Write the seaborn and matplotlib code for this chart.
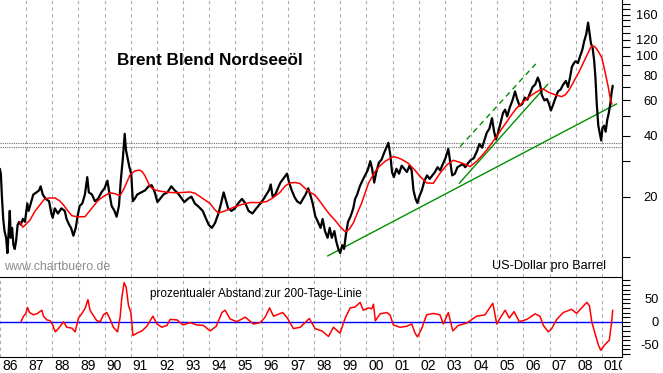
import matplotlib
matplotlib.use("Agg")
import matplotlib.pyplot as plt
import seaborn as sns
import pandas as pd
from matplotlib.ticker import FixedLocator, FixedFormatter, NullLocator
from matplotlib.transforms import Bbox, TransformedBbox, ScaledTranslation

sns.set_style("white")
plt.rcParams["font.family"] = ["Liberation Sans", "DejaVu Sans"]

# ---------------- data ----------------
price_year = [
    1986.00, 1986.04, 1986.08, 1986.13, 1986.18, 1986.24, 1986.29, 1986.34, 1986.38, 1986.42,
    1986.47, 1986.52, 1986.57, 1986.62, 1986.68, 1986.74, 1986.80, 1986.88, 1986.96, 1987.05,
    1987.10, 1987.18, 1987.28, 1987.40, 1987.50, 1987.56, 1987.64, 1987.75, 1987.88, 1987.97,
    1988.02, 1988.10, 1988.22, 1988.35, 1988.48, 1988.55, 1988.65, 1988.72, 1988.81, 1988.90,
    1988.97, 1989.05, 1989.15, 1989.25, 1989.34, 1989.40, 1989.52, 1989.63, 1989.75, 1989.88,
    1990.00, 1990.11, 1990.18, 1990.27, 1990.38, 1990.46, 1990.55, 1990.62, 1990.70, 1990.77,
    1990.82, 1990.88, 1990.95, 1991.02, 1991.08, 1991.15, 1991.25, 1991.40, 1991.55, 1991.68,
    1991.80, 1991.92, 1992.02, 1992.12, 1992.25, 1992.40, 1992.55, 1992.68, 1992.80, 1992.92,
    1993.05, 1993.18, 1993.32, 1993.45, 1993.60, 1993.75, 1993.88, 1993.98, 1994.10, 1994.22,
    1994.35, 1994.45, 1994.55, 1994.62, 1994.72, 1994.85, 1994.98, 1995.10, 1995.25, 1995.38,
    1995.50, 1995.65, 1995.80, 1995.95, 1996.08, 1996.18, 1996.28, 1996.35, 1996.42, 1996.52,
    1996.62, 1996.72, 1996.82, 1996.92, 1996.97, 1997.05, 1997.15, 1997.25, 1997.35, 1997.48,
    1997.58, 1997.68, 1997.78, 1997.88, 1997.95, 1998.05, 1998.15, 1998.25, 1998.33, 1998.42,
    1998.52, 1998.60, 1998.68, 1998.78, 1998.85, 1998.93, 1999.00, 1999.08, 1999.15, 1999.22,
    1999.30, 1999.40, 1999.50, 1999.57, 1999.65, 1999.75, 1999.85, 1999.95, 2000.05, 2000.15,
    2000.22, 2000.30, 2000.38, 2000.48, 2000.58, 2000.68, 2000.76, 2000.84, 2000.92, 2000.98,
    2001.05, 2001.15, 2001.25, 2001.35, 2001.45, 2001.55, 2001.65, 2001.73, 2001.80, 2001.88,
    2001.95, 2002.02, 2002.12, 2002.22, 2002.32, 2002.42, 2002.52, 2002.62, 2002.72, 2002.82,
    2002.92, 2003.02, 2003.13, 2003.20, 2003.28, 2003.38, 2003.48, 2003.58, 2003.68, 2003.78,
    2003.90, 2004.00, 2004.10, 2004.22, 2004.32, 2004.42, 2004.52, 2004.60, 2004.70, 2004.80,
    2004.88, 2004.95, 2005.02, 2005.12, 2005.22, 2005.30, 2005.38, 2005.48, 2005.58, 2005.68,
    2005.76, 2005.85, 2005.95, 2006.05, 2006.15, 2006.25, 2006.35, 2006.45, 2006.55, 2006.63,
    2006.70, 2006.80, 2006.90, 2006.97, 2007.05, 2007.12, 2007.22, 2007.32, 2007.42, 2007.52,
    2007.62, 2007.70, 2007.78, 2007.85, 2007.93, 2008.00, 2008.08, 2008.17, 2008.25, 2008.32,
    2008.40, 2008.47, 2008.53, 2008.58, 2008.64, 2008.70, 2008.75, 2008.80, 2008.86, 2008.92,
    2008.97, 2009.02, 2009.08, 2009.14, 2009.20, 2009.26, 2009.32, 2009.37, 2009.41,
]
price_usd = [
    27.5, 26.0, 20.0, 15.5, 13.5, 12.5, 10.5, 13.5, 17.0, 12.5,
    14.0, 11.5, 11.0, 12.0, 14.5, 15.0, 14.5, 15.5, 15.0, 18.5,
    17.0, 18.5, 20.5, 21.0, 21.5, 22.5, 20.5, 19.5, 19.0, 16.5,
    15.7, 17.5, 16.5, 17.5, 17.0, 15.5, 14.5, 14.0, 12.8, 14.0,
    16.0, 18.0, 18.5, 20.5, 25.0, 21.0, 20.5, 19.0, 19.5, 21.0,
    22.0, 24.0, 21.0, 18.0, 17.0, 15.9, 18.0, 24.0, 31.0, 41.0,
    34.0, 31.0, 28.0, 26.0, 19.0, 19.5, 20.5, 21.0, 21.5, 22.5,
    22.8, 21.0, 18.8, 19.5, 20.5, 21.0, 22.5, 21.5, 20.8, 19.8,
    18.8, 19.5, 20.0, 18.5, 17.8, 17.0, 15.5, 14.5, 14.0, 14.8,
    16.5, 18.5, 21.0, 19.5, 17.5, 17.0, 17.5, 18.5, 19.5, 18.5,
    17.0, 16.5, 17.5, 18.5, 19.5, 20.5, 21.5, 23.0, 20.0, 20.5,
    22.0, 23.5, 24.5, 25.5, 26.0, 23.5, 21.5, 20.0, 19.0, 18.5,
    19.5, 20.5, 22.0, 20.0, 18.5, 16.0, 15.0, 14.0, 15.5, 13.5,
    12.5, 14.0, 12.5, 13.5, 12.0, 11.0, 10.5, 11.5, 11.0, 13.0,
    15.0, 16.0, 17.5, 19.5, 20.5, 22.5, 24.0, 25.5, 27.0, 30.0,
    27.5, 23.5, 26.5, 29.5, 30.5, 33.0, 35.0, 37.0, 32.0, 26.5,
    25.0, 27.5, 26.0, 28.5, 27.5, 26.5, 28.5, 27.0, 21.5, 19.5,
    18.6, 20.0, 21.5, 24.0, 25.5, 24.5, 25.5, 26.5, 28.0, 27.0,
    29.0, 31.0, 34.5, 30.0, 25.5, 26.0, 28.0, 28.5, 29.0, 28.0,
    29.5, 30.5, 31.0, 33.5, 36.5, 35.0, 38.5, 41.5, 43.5, 49.0,
    42.0, 38.5, 41.0, 46.0, 52.0, 54.0, 50.0, 55.5, 60.0, 66.5,
    61.0, 56.5, 57.5, 62.0, 60.5, 65.0, 70.0, 72.0, 78.0, 73.0,
    64.0, 60.0, 61.0, 58.0, 53.5, 56.5, 61.5, 66.5, 68.0, 72.0,
    75.0, 70.0, 78.0, 88.0, 92.0, 94.0, 92.0, 100.0, 107.0, 118.0,
    128.0, 146.0, 128.0, 115.0, 110.0, 95.0, 78.0, 58.0, 45.0, 41.0,
    38.0, 44.0, 45.0, 42.0, 48.0, 52.0, 58.0, 66.0, 71.0,
]

ma_year = [
    1986.77, 1986.88, 1987.00, 1987.15, 1987.35, 1987.53, 1987.70, 1987.85, 1988.11, 1988.30,
    1988.43, 1988.60, 1988.75, 1988.94, 1989.25, 1989.40, 1989.57, 1989.70, 1989.83, 1990.00,
    1990.21, 1990.40, 1990.59, 1990.75, 1990.97, 1991.15, 1991.35, 1991.45, 1991.55, 1991.74,
    1991.92, 1992.12, 1992.45, 1992.76, 1993.00, 1993.26, 1993.45, 1993.65, 1993.85, 1994.03,
    1994.20, 1994.35, 1994.60, 1994.92, 1995.25, 1995.56, 1995.90, 1996.19, 1996.45, 1996.70,
    1996.90, 1997.08, 1997.30, 1997.47, 1997.66, 1997.85, 1998.04, 1998.22, 1998.42, 1998.60,
    1998.80, 1999.00, 1999.19, 1999.35, 1999.50, 1999.65, 1999.82, 2000.08, 2000.33, 2000.50,
    2000.71, 2001.03, 2001.20, 2001.35, 2001.60, 2001.86, 2002.05, 2002.30, 2002.56, 2002.81,
    2003.07, 2003.32, 2003.50, 2003.70, 2003.96, 2004.21, 2004.40, 2004.60, 2004.80, 2004.98,
    2005.15, 2005.36, 2005.55, 2005.74, 2005.90, 2006.06, 2006.25, 2006.44, 2006.60, 2006.75,
    2006.95, 2007.21, 2007.46, 2007.60, 2007.72, 2007.85, 2007.97, 2008.10, 2008.22, 2008.35,
    2008.48, 2008.57, 2008.63, 2008.72, 2008.80, 2008.90, 2008.99, 2009.06, 2009.12, 2009.18,
    2009.24, 2009.30, 2009.34, 2009.38,
]
ma_usd = [
    15.0, 14.1, 14.6, 15.3, 17.0, 18.2, 19.4, 19.7, 19.7, 19.0,
    18.2, 17.0, 16.1, 15.9, 15.9, 16.8, 17.9, 18.8, 19.5, 20.2,
    20.9, 20.7, 20.2, 22.0, 25.6, 26.8, 27.1, 26.5, 25.3, 22.4,
    21.6, 21.3, 21.0, 20.9, 21.0, 21.1, 20.8, 20.0, 19.2, 18.5,
    17.3, 16.6, 17.0, 17.7, 18.3, 18.7, 18.7, 18.9, 19.8, 21.0,
    22.6, 23.4, 23.5, 23.2, 22.0, 21.0, 20.4, 19.0, 17.5, 16.3,
    15.3, 14.2, 13.4, 13.8, 14.8, 16.5, 18.6, 23.3, 26.6, 28.3,
    29.9, 31.6, 31.2, 30.6, 29.3, 27.0, 25.2, 23.4, 23.3, 26.1,
    28.7, 30.3, 29.8, 29.2, 28.2, 29.9, 31.8, 34.1, 37.0, 39.9,
    43.0, 47.0, 51.0, 55.0, 57.5, 60.0, 63.0, 65.4, 67.3, 68.5,
    66.0, 64.0, 62.7, 64.0, 67.0, 71.5, 76.5, 82.0, 88.3, 96.0,
    104.0, 110.0, 112.0, 111.0, 108.0, 103.0, 98.0, 90.0, 83.0, 76.0,
    70.0, 63.0, 60.0, 57.5,
]

dev_year = [
    1986.80, 1986.90, 1986.99, 1987.05, 1987.13, 1987.28, 1987.43, 1987.60, 1987.66, 1987.79,
    1987.92, 1988.02, 1988.11, 1988.23, 1988.43, 1988.55, 1988.75, 1988.87, 1989.00, 1989.13,
    1989.25, 1989.36, 1989.44, 1989.55, 1989.70, 1989.83, 1989.95, 1990.08, 1990.21, 1990.33,
    1990.49, 1990.59, 1990.65, 1990.74, 1990.82, 1990.91, 1991.00, 1991.08, 1991.23, 1991.42,
    1991.61, 1991.84, 1992.00, 1992.18, 1992.38, 1992.50, 1992.76, 1992.99, 1993.26, 1993.52,
    1993.77, 1994.03, 1994.26, 1994.48, 1994.60, 1994.79, 1995.05, 1995.37, 1995.68, 1995.94,
    1996.13, 1996.30, 1996.45, 1996.80, 1996.98, 1997.21, 1997.47, 1997.82, 1998.04, 1998.30,
    1998.55, 1998.74, 1998.99, 1999.19, 1999.38, 1999.57, 1999.76, 1999.88, 2000.08, 2000.20,
    2000.27, 2000.34, 2000.52, 2000.78, 2000.90, 2001.03, 2001.28, 2001.54, 2001.73, 2001.86,
    2001.95, 2002.11, 2002.30, 2002.56, 2002.81, 2002.94, 2003.13, 2003.30, 2003.51, 2003.83,
    2004.21, 2004.53, 2004.83, 2004.98, 2005.13, 2005.30, 2005.46, 2005.64, 2005.84, 2006.13,
    2006.44, 2006.63, 2006.76, 2006.95, 2007.08, 2007.27, 2007.52, 2007.84, 2008.03, 2008.22,
    2008.42, 2008.52, 2008.61, 2008.73, 2008.86, 2008.95, 2009.11, 2009.28, 2009.37, 2009.41,
]
dev_pct = [
    0, 12, 18, 31, 20, 15, 18, 25, 12, 4,
    2, -8, -22, -15, 0, -12, -14, -22, 8, 18,
    29, 48, 25, 15, 2, 0, 15, 20, 5, -12,
    -22, 10, 50, 85, 75, 35, 20, -30, -25, -20,
    -10, 12, -5, -12, -8, 5, 4, -7, -2, -7,
    -8, -20, -10, 20, 25, 6, 0, 10, -5, -2,
    10, 30, 12, 20, 8, -15, -12, 7, -15, -20,
    -32, -12, -25, 8, 30, 32, 42, 25, 30, 28,
    38, 2, 17, 20, 15, -7, -12, -10, -5, -25,
    -33, -15, 15, 18, 15, -5, 20, -20, -8, -3,
    12, 15, 40, -5, 10, 25, 8, 22, 0, 5,
    17, 12, -8, -22, -15, 5, 20, 27, 18, 30,
    42, 35, 0, -25, -50, -62, -50, -40, 0, 25,
]

# trend lines drawn in the chart (start / end)
trend_long_year = [1998.52, 2009.56]
trend_long_usd = [10.16, 57.7]
trend_steep_year = [2003.55, 2006.93]
trend_steep_usd = [23.3, 72.3]
trend_dash_year = [2003.58, 2006.47]
trend_dash_usd = [35.4, 91.1]
resistance_usd = [36.8, 35.3]

year_ticks = list(range(1986, 2010))
year_labels = ["86", "87", "88", "89", "90", "91", "92", "93", "94", "95", "96", "97",
               "98", "99", "00", "01", "02", "03", "04", "05", "06", "07", "08", "010"]
price_ticks = [10, 20, 30, 40, 50, 60, 70, 80, 90, 100, 110, 120, 130, 140, 150, 160, 170, 180]
price_labels = {20: "20", 40: "40", 60: "60", 80: "80", 100: "100", 120: "120", 160: "160"}
dev_ticks = [-70, -60, -50, -40, -30, -20, -10, 0, 10, 20, 30, 40, 50, 60, 70, 80, 90]
dev_labels = {-50: "-50", 0: "0", 50: "50"}

# ---------------- figure ----------------
W, H = 663, 373
fig = plt.figure(figsize=(W / 100, H / 100), dpi=100)


def fx(px):
    return px / W


def fy(py):
    return 1 - py / H


X_LEFT, X_RIGHT = 1986.007, 2009.765
ax1 = fig.add_axes([0, fy(277), fx(622), 277 / H])
ax2 = fig.add_axes([0, fy(357), fx(622), 80 / H])

price_df = pd.DataFrame({"Jahr": price_year, "Kurs": price_usd})
ma_df = pd.DataFrame({"Jahr": ma_year, "GD200": ma_usd})
dev_df = pd.DataFrame({"Jahr": dev_year, "Abstand": dev_pct})

GRID = dict(color="#adadad", linestyle=(0, (3, 3)), linewidth=0.8)
GREEN = "#009000"

# --- upper panel ---
ax1.set_yscale("log")
for v in resistance_usd:
    ax1.axhline(v, color="#6e6e6e", linestyle=(0, (1, 1)), linewidth=0.8, zorder=1)
sns.lineplot(x=trend_long_year, y=trend_long_usd, ax=ax1, color=GREEN, linewidth=1.0, zorder=2)
sns.lineplot(x=trend_steep_year, y=trend_steep_usd, ax=ax1, color=GREEN, linewidth=1.0, zorder=2)
sns.lineplot(x=trend_dash_year, y=trend_dash_usd, ax=ax1, color=GREEN, linewidth=1.0,
             linestyle=(0, (4, 3)), zorder=2)
sns.lineplot(data=price_df, x="Jahr", y="Kurs", ax=ax1, color="black", linewidth=1.6, zorder=3)
sns.lineplot(data=ma_df, x="Jahr", y="GD200", ax=ax1, color="#ff0000", linewidth=1.1, zorder=4)
ax1.set_xlim(X_LEFT, X_RIGHT)
ax1.set_ylim(7.99, 189)
ax1.set_xticks(year_ticks[1:])
ax1.grid(axis="x", **GRID)
ax1.grid(axis="y", visible=False)
ax1.tick_params(axis="x", bottom=False, labelbottom=False)
ax1.yaxis.tick_right()
ax1.yaxis.set_major_locator(FixedLocator(price_ticks))
ax1.yaxis.set_major_formatter(FixedFormatter([price_labels.get(t, "") for t in price_ticks]))
ax1.yaxis.set_minor_locator(NullLocator())
ax1.tick_params(axis="y", which="major", direction="out", length=5.8, width=0.8,
                pad=20.2, labelsize=9.3, colors="black")
for lbl in ax1.get_yticklabels():
    lbl.set_ha("right")
ax1.set_xlabel("")
ax1.set_ylabel("")
for s in ("left", "top", "bottom"):
    ax1.spines[s].set_visible(False)
ax1.spines["right"].set_color("black")
ax1.spines["right"].set_linewidth(0.8)

# --- lower panel ---
ax2.axhline(0, color="#0000ff", linewidth=1.0, zorder=2)
sns.lineplot(data=dev_df, x="Jahr", y="Abstand", ax=ax2, color="#ff0000", linewidth=1.1, zorder=3)
ax2.set_xlim(X_LEFT, X_RIGHT)
ax2.set_ylim(-76.7, 97.2)
ax2.set_xticks(year_ticks)
ax2.set_xticklabels(year_labels, ha="left", fontsize=10,
                    family=["Liberation Sans Narrow", "Liberation Sans"])
ax2.grid(axis="x", **GRID)
ax2.grid(axis="y", visible=False)
ax2.tick_params(axis="x", direction="out", length=11, width=0.8, pad=-9.8, colors="black")
shift = ScaledTranslation(2.0 / 100, 0, fig.dpi_scale_trans)
clip = TransformedBbox(Bbox([[0, 0], [fx(622), 1]]), fig.transFigure)
for lbl in ax2.get_xticklabels():
    lbl.set_transform(lbl.get_transform() + shift)
    lbl.set_clip_on(True)
    lbl.set_clip_box(clip)
ax2.yaxis.tick_right()
ax2.yaxis.set_major_locator(FixedLocator(dev_ticks))
ax2.yaxis.set_major_formatter(FixedFormatter([dev_labels.get(t, "") for t in dev_ticks]))
ax2.tick_params(axis="y", direction="out", length=5.8, width=0.8, pad=20.6, labelsize=9.3,
                colors="black")
for lbl in ax2.get_yticklabels():
    lbl.set_ha("right")
ax2.set_xlabel("")
ax2.set_ylabel("")
ax2.spines["left"].set_visible(False)
for s in ("top", "right", "bottom"):
    ax2.spines[s].set_color("black")
    ax2.spines[s].set_linewidth(0.8)

# --- texts ---
fig.text(fx(117), fy(65), "Brent Blend Nordseeöl", fontsize=12.3, fontweight="bold",
         ha="left", va="baseline", color="black")
fig.text(fx(4), fy(270), "www.chartbuero.de", fontsize=8.9, color="#8c8c8c",
         ha="left", va="baseline")
fig.text(fx(492.5), fy(269.3), "US-Dollar pro Barrel", fontsize=9.1, color="black",
         ha="left", va="baseline")
fig.text(fx(149.5), fy(296.7), "prozentualer Abstand zur 200-Tage-Linie", fontsize=8.5,
         color="black", ha="left", va="baseline")

fig.savefig("out.png", dpi=100, facecolor="white")
